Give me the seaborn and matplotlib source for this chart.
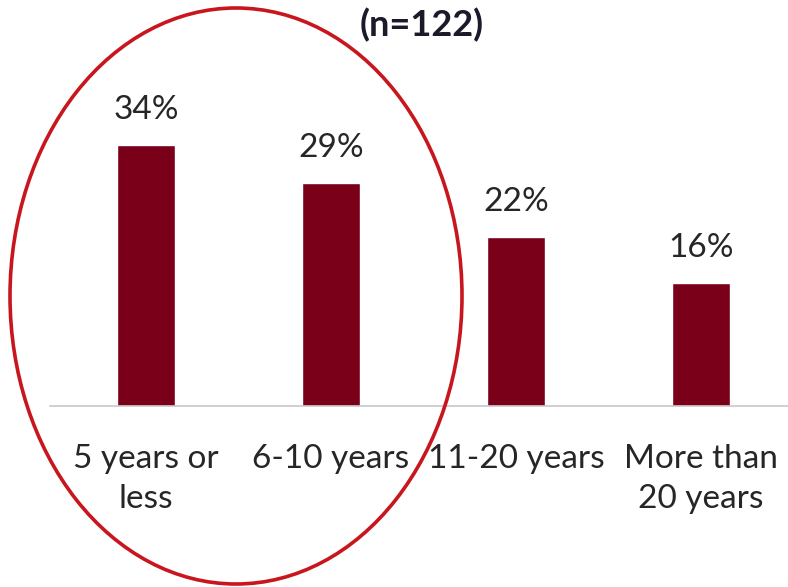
import matplotlib
matplotlib.use("Agg")
import matplotlib.pyplot as plt
from matplotlib.patches import Ellipse
import seaborn as sns
import pandas as pd

# Tenure of respondents (n=122)
categories = ["5 years or\nless", "6-10 years", "11-20 years", "More than\n20 years"]
shares = [34, 29, 22, 16]
title_text = "(n=122)"

df = pd.DataFrame({"Tenure": categories, "Share": shares})

sns.set_theme(style="white")
plt.rcParams["font.family"] = ["Lato", "DejaVu Sans"]

W, H = 788, 587
fig = plt.figure(figsize=(W / 100, H / 100), dpi=100)
ax = fig.add_axes([50 / W, (H - 406) / H, 1 - 50 / W, (406 - 60) / H])

sns.barplot(data=df, x="Tenure", y="Share", color="#7A0019", width=0.313,
            saturation=1, ax=ax)

ax.set_xlim(-0.519, 3.47)
ax.set_ylim(0, 45.05)
for p, v in zip(ax.patches, shares):
    ax.text(p.get_x() + p.get_width() / 2, v + 2.6, f"{v}%", ha="center",
            va="bottom", fontsize=24, color="#262626")

ax.set_xlabel("")
ax.set_ylabel("")
ax.set_yticks([])
ax.tick_params(axis="x", labelsize=24, colors="#262626", length=0, pad=27)
for lbl in ax.get_xticklabels():
    lbl.set_linespacing(1.45)
for s in ["top", "right", "left"]:
    ax.spines[s].set_visible(False)
ax.spines["bottom"].set_color("#c8c8c8")
ax.spines["bottom"].set_linewidth(1.2)

fig.text(422 / W, 1 - 25 / H, title_text, ha="center", va="center",
         fontsize=26, fontweight="bold", color="#1a1a2a")

ell = Ellipse((236 / W, 1 - 296 / H), 452 / W, 576 / H, transform=fig.transFigure,
              fill=False, edgecolor="#C8161E", linewidth=2.6)
fig.patches.append(ell)

fig.savefig("out.png", dpi=100)
